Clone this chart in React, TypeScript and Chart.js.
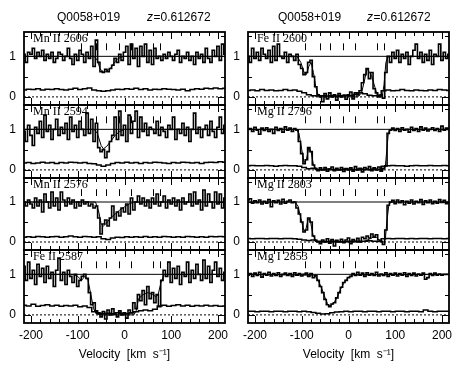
import React, { useEffect, useRef } from "react";
import { Chart, registerables } from "chart.js";
Chart.register(...registerables);

// ---------------- DATA ----------------
const X_MIN = -215;
const X_MAX = 215;
const Y_MIN = -0.2;
const Y_MAX = 1.6;

const X_TICKS = [-200, -100, 0, 100, 200];
const Y_TICKS = [0, 1];

const TITLE_QSO = "Q0058+019";
const TITLE_Z = "=0.612672";

// component markers (km/s)
const COMPONENT_VELOCITIES = [-92, -62, -40, -12, 14, 62, 76];

// pixel velocities of the data histograms
const VELOCITY = [
  -215, -210, -205, -200, -195, -190, -185, -180, -175, -170,
  -165, -160, -155, -150, -145, -140, -135, -130, -125, -120,
  -115, -110, -105, -100, -95, -90, -85, -80, -75, -70,
  -65, -60, -55, -50, -45, -40, -35, -30, -25, -20,
  -15, -10, -5, 0, 5, 10, 15, 20, 25, 30,
  35, 40, 45, 50, 55, 60, 65, 70, 75, 80,
  85, 90, 95, 100, 105, 110, 115, 120, 125, 130,
  135, 140, 145, 150, 155, 160, 165, 170, 175, 180,
  185, 190, 195, 200, 205, 210, 215,
];

// velocities of the error histograms
const ERR_VELOCITY = [
  -215, -205, -195, -185, -175, -165, -155, -145, -135, -125,
  -115, -105, -95, -85, -75, -65, -55, -45, -35, -25,
  -15, -5, 5, 15, 25, 35, 45, 55, 65, 75,
  85, 95, 105, 115, 125, 135, 145, 155, 165, 175,
  185, 195, 205, 215,
];

const FLUX_MNII_2606 = [
  1.05, 0.85, 1.1, 1.05, 1.2, 0.95, 1.1, 1.0, 1.15, 0.9,
  1.05, 0.95, 1.1, 0.85, 0.95, 1.1, 1.05, 0.9, 1.0, 1.2,
  0.95, 0.8, 1.05, 0.9, 1.15, 1.05, 0.85, 1.1, 0.95, 1.25,
  0.75, 1.4, 0.85, 0.62, 0.6, 0.68, 0.62, 0.7, 0.78, 0.95,
  0.85, 1.05, 0.9, 1.1, 1.25, 0.8, 1.3, 0.95, 1.2, 0.75,
  1.25, 1.0, 1.3, 0.85, 1.15, 0.8, 1.2, 0.95, 1.0, 0.9,
  1.05, 0.95, 1.1, 1.0, 0.9, 1.05, 1.15, 0.85, 1.0, 0.95,
  1.1, 0.9, 1.0, 0.8, 1.1, 0.95, 1.05, 0.85, 1.2, 0.95,
  0.85, 1.15, 1.0, 1.25, 0.9, 1.3, 1.05,
];
const FLUX_MNII_2594 = [
  0.95, 0.7, 1.1, 0.85, 0.6, 1.05, 0.9, 1.2, 0.8, 1.35,
  0.95, 1.1, 0.75, 1.0, 1.25, 0.85, 1.05, 0.9, 1.15, 0.75,
  1.3, 0.95, 1.1, 0.8, 1.2, 1.0, 0.85, 1.4, 0.9, 1.25,
  0.7, 1.15, 0.55, 0.45, 0.5, 0.3, 0.45, 0.7, 0.85, 1.3,
  0.75, 1.45, 0.85, 1.1, 0.7, 1.35, 0.9, 1.2, 1.45, 0.8,
  1.3, 0.95, 1.15, 0.85, 1.05, 1.0, 0.9, 1.2, 0.85, 1.05,
  0.95, 0.8, 1.1, 1.0, 1.3, 0.75, 1.0, 0.9, 1.15, 0.85,
  1.05, 0.7, 1.0, 1.4, 0.9, 1.05, 0.8, 1.0, 1.1, 0.85,
  1.2, 0.95, 0.8, 1.05, 1.3, 0.9, 1.1,
];
const FLUX_MNII_2576 = [
  1.0, 0.9, 1.05, 0.95, 0.85, 1.1, 0.9, 1.05, 0.75, 1.2,
  1.0, 0.85, 1.25, 0.9, 1.1, 0.8, 1.25, 1.05, 0.9, 1.1,
  0.95, 1.05, 0.85, 1.0, 0.9, 1.05, 0.95, 1.0, 0.9, 0.95,
  0.85, 0.9, 0.6, 0.2, 0.45, 0.55, 0.4, 0.6, 0.9, 0.55,
  0.75, 0.65, 0.85, 0.75, 0.95, 0.7, 1.1, 0.8, 1.0, 1.15,
  0.95, 1.1, 0.9, 1.05, 0.85, 1.1, 0.95, 1.2, 0.9, 1.0,
  1.15, 0.85, 1.05, 0.95, 1.1, 0.9, 1.05, 0.8, 1.1, 0.95,
  1.0, 1.2, 0.9, 1.25, 0.95, 1.05, 0.8, 1.3, 0.9, 1.2,
  1.0, 0.85, 1.25, 0.95, 1.2, 0.85, 1.1,
];
const FLUX_FEII_2587 = [
  1.2, 0.85, 1.3, 0.9, 1.1, 0.75, 1.25, 0.95, 1.15, 0.8,
  1.2, 0.9, 1.05, 0.7, 1.1, 1.4, 0.85, 1.05, 0.75, 1.1,
  0.95, 0.8, 1.0, 0.7, 0.85, 0.95, 1.0, 0.9, 0.55, 0.25,
  0.3, 0.1, 0.05, -0.05, 0.08, -0.1, 0.12, 0.0, 0.15, 0.02,
  -0.05, 0.1, 0.0, 0.05, -0.08, 0.12, 0.05, 0.3, 0.15, 0.5,
  0.35, 0.6, 0.25, 0.7, 0.4, 0.55, 0.3, 0.5, 0.2, 0.85,
  1.1, 0.95, 1.3, 0.8, 1.15, 0.9, 1.2, 0.75, 1.05, 0.95,
  1.3, 0.8, 1.1, 0.9, 1.25, 1.0, 0.85, 1.35, 0.9, 1.2,
  0.8, 1.1, 1.3, 0.95, 1.15, 0.85, 1.05,
];
const FLUX_FEII_2600 = [
  1.0, 0.85, 1.2, 0.95, 1.1, 0.9, 1.2, 1.05, 0.95, 1.15,
  0.85, 1.25, 0.9, 1.3, 1.0, 0.95, 1.1, 0.85, 1.05, 1.0,
  0.9, 1.05, 0.8, 0.7, 0.55, 0.6, 0.85, 0.9, 0.5, 0.25,
  0.05, 0.0, -0.12, 0.08, -0.05, 0.1, 0.0, 0.05, -0.08, 0.08,
  0.0, 0.04, -0.06, 0.05, 0.12, -0.05, 0.1, 0.05, 0.15, 0.35,
  0.55, 0.7, 0.45, 0.6, 0.2, 0.1, 0.0, 0.05, -0.03, 0.6,
  1.0, 0.85, 1.1, 0.95, 1.15, 0.85, 1.05, 0.95, 1.1, 0.8,
  1.0, 1.15, 1.3, 0.95, 1.1, 0.85, 1.05, 0.9, 1.15, 0.8,
  1.05, 1.0, 1.3, 0.9, 1.1, 0.95, 1.05,
];
const FLUX_MGII_2796 = [
  1.0, 1.02, 0.95, 1.05, 0.98, 0.88, 1.03, 0.97, 1.04, 0.95,
  1.0, 0.9, 1.05, 0.97, 1.02, 0.93, 1.06, 0.98, 1.03, 0.95,
  1.02, 0.98, 0.7, 0.4, 0.15, 0.25, 0.55, 0.45, 0.12, 0.03,
  -0.02, 0.05, 0.0, 0.06, -0.03, 0.02, 0.07, -0.02, 0.04, 0.0,
  0.06, -0.04, 0.03, 0.0, 0.05, -0.03, 0.08, 0.0, 0.04, -0.05,
  0.06, 0.02, 0.08, -0.02, 0.05, 0.0, 0.07, -0.03, 0.04, 0.1,
  0.9, 0.98, 1.03, 0.97, 1.02, 0.95, 1.04, 0.98, 1.0, 0.93,
  1.05, 0.97, 1.02, 0.95, 1.06, 0.98, 1.03, 0.96, 1.0, 1.04,
  0.97, 1.02, 0.95, 1.08, 0.98, 1.03, 1.0,
];
const FLUX_MGII_2803 = [
  1.05, 1.08, 0.97, 1.03, 0.98, 1.05, 0.95, 1.02, 0.97, 1.06,
  0.88, 1.03, 0.98, 1.04, 0.95, 1.07, 0.97, 1.02, 1.05, 0.98,
  1.0, 0.85, 0.7, 0.5, 0.25, 0.3, 0.6, 0.5, 0.15, 0.04,
  0.0, -0.04, 0.05, 0.0, 0.08, -0.03, 0.06, -0.1, 0.04, 0.0,
  0.07, -0.02, 0.05, 0.1, -0.04, 0.06, 0.02, 0.09, 0.0, 0.12,
  0.08, 0.15, 0.1, 0.2, 0.12, 0.18, 0.05, 0.02, -0.06, 0.3,
  0.92, 1.0, 1.04, 0.96, 1.05, 0.98, 1.03, 0.93, 1.02, 0.97,
  1.05, 0.95, 1.02, 0.98, 1.06, 0.94, 1.03, 0.98, 1.05, 0.96,
  1.02, 0.97, 1.06, 0.99, 1.04, 0.96, 1.0,
];
const FLUX_MGI_2853 = [
  0.98, 1.02, 0.95, 1.03, 0.97, 1.05, 0.93, 1.02, 0.98, 1.05,
  0.96, 1.02, 0.97, 1.04, 0.95, 1.0, 1.03, 0.97, 1.02, 0.95,
  1.04, 0.98, 1.02, 0.96, 1.0, 1.03, 0.95, 1.02, 0.92, 0.97,
  0.85, 0.7, 0.55, 0.38, 0.25, 0.2, 0.27, 0.3, 0.42, 0.55,
  0.68, 0.8, 0.85, 0.92, 0.95, 1.02, 0.97, 1.05, 0.98, 1.03,
  0.95, 1.04, 0.98, 1.02, 0.97, 1.05, 0.96, 1.01, 0.97, 1.04,
  0.95, 1.02, 0.98, 1.03, 0.96, 1.02, 0.98, 1.04, 0.95, 1.02,
  0.97, 1.03, 0.96, 1.01, 0.98, 1.03, 0.88, 0.92, 1.02, 0.97,
  1.03, 0.98, 1.01, 0.98, 1.0, 1.0, 1.0,
];

// model profiles (velocity knots, normalized flux)
const MODEL_V_MNII_2606 = [-215, -65, -58, -52, -45, -38, -30, -22, -15, -8, 0, 215];
const MODEL_F_MNII_2606 = [1, 1, 0.9, 0.68, 0.62, 0.64, 0.7, 0.85, 0.93, 0.98, 1, 1];
const MODEL_V_MNII_2594 = [-215, -65, -58, -50, -45, -38, -30, -20, -10, 0, 215];
const MODEL_F_MNII_2594 = [1, 1, 0.9, 0.6, 0.52, 0.58, 0.7, 0.85, 0.95, 1, 1];
const MODEL_V_MNII_2576 = [-215, -62, -55, -50, -45, -38, -30, -20, -10, 0, 10, 20, 215];
const MODEL_F_MNII_2576 = [1, 1, 0.75, 0.45, 0.4, 0.48, 0.6, 0.7, 0.8, 0.88, 0.95, 1, 1];
const MODEL_V_FEII_2587 = [-215, -110, -100, -92, -85, -78, -72, -66, -60, -50, 20, 25, 30, 40, 50, 60, 67, 72, 78, 85, 215];
const MODEL_F_FEII_2587 = [1, 1, 0.95, 0.85, 0.95, 0.85, 0.5, 0.15, 0.02, 0, 0, 0.1, 0.4, 0.5, 0.55, 0.5, 0.45, 0.5, 0.8, 1, 1];
const MODEL_V_FEII_2600 = [-215, -110, -102, -95, -90, -85, -80, -75, -70, -65, -60, 20, 28, 35, 40, 45, 50, 55, 60, 65, 72, 76, 80, 85, 215];
const MODEL_F_FEII_2600 = [1, 1, 0.85, 0.6, 0.55, 0.75, 0.85, 0.6, 0.25, 0.05, 0, 0, 0.1, 0.45, 0.7, 0.6, 0.5, 0.3, 0.1, 0.02, 0, 0.3, 0.85, 1, 1];
const MODEL_V_MGII_2796 = [-215, -112, -106, -100, -95, -90, -85, -80, -75, -70, -65, 76, 79, 82, 85, 88, 215];
const MODEL_F_MGII_2796 = [1, 1, 0.9, 0.5, 0.18, 0.25, 0.55, 0.45, 0.12, 0.02, 0, 0, 0.1, 0.5, 0.88, 1, 1];
const MODEL_V_MGII_2803 = [-215, -115, -108, -102, -96, -92, -86, -82, -76, -70, -65, 30, 40, 50, 55, 60, 65, 70, 76, 79, 82, 86, 90, 215];
const MODEL_F_MGII_2803 = [1, 1, 0.9, 0.6, 0.3, 0.28, 0.58, 0.55, 0.18, 0.03, 0, 0, 0.05, 0.1, 0.15, 0.12, 0.05, 0, 0, 0.1, 0.5, 0.9, 1, 1];
const MODEL_V_MGI_2853 = [-215, -75, -68, -62, -55, -50, -45, -40, -35, -30, -25, -20, -15, -10, -5, 0, 10, 215];
const MODEL_F_MGI_2853 = [1, 0.98, 0.92, 0.78, 0.58, 0.42, 0.28, 0.22, 0.25, 0.32, 0.42, 0.55, 0.68, 0.78, 0.87, 0.93, 0.99, 1];

// error spectra
const ERR_MNII_2606 = [0.17, 0.19, 0.18, 0.2, 0.17, 0.19, 0.18, 0.2, 0.18, 0.17, 0.19, 0.21, 0.18, 0.2, 0.22, 0.17, 0.15, 0.14, 0.15, 0.17, 0.19, 0.18, 0.2, 0.19, 0.21, 0.18, 0.2, 0.17, 0.19, 0.18, 0.2, 0.19, 0.18, 0.17, 0.19, 0.15, 0.18, 0.2, 0.19, 0.21, 0.2, 0.22, 0.2, 0.21];
const ERR_MNII_2594 = [0.17, 0.18, 0.16, 0.17, 0.19, 0.17, 0.18, 0.16, 0.18, 0.17, 0.19, 0.18, 0.17, 0.18, 0.16, 0.15, 0.12, 0.09, 0.12, 0.16, 0.18, 0.17, 0.19, 0.17, 0.18, 0.16, 0.18, 0.17, 0.19, 0.18, 0.17, 0.16, 0.18, 0.17, 0.19, 0.18, 0.17, 0.18, 0.16, 0.18, 0.19, 0.18, 0.2, 0.19];
const ERR_MNII_2576 = [0.12, 0.13, 0.12, 0.14, 0.13, 0.12, 0.13, 0.14, 0.12, 0.13, 0.15, 0.13, 0.12, 0.14, 0.13, 0.12, 0.13, 0.08, 0.06, 0.1, 0.12, 0.11, 0.13, 0.12, 0.13, 0.12, 0.14, 0.12, 0.13, 0.12, 0.14, 0.13, 0.12, 0.13, 0.12, 0.14, 0.13, 0.12, 0.13, 0.12, 0.14, 0.13, 0.14, 0.13];
const ERR_FEII_2587 = [0.24, 0.22, 0.26, 0.21, 0.23, 0.25, 0.22, 0.24, 0.21, 0.23, 0.22, 0.24, 0.2, 0.22, 0.18, 0.08, 0.04, 0.03, 0.04, 0.03, 0.05, 0.04, 0.03, 0.05, 0.08, 0.1, 0.12, 0.1, 0.14, 0.22, 0.24, 0.21, 0.23, 0.25, 0.22, 0.24, 0.21, 0.23, 0.22, 0.24, 0.22, 0.23, 0.21, 0.22];
const ERR_FEII_2600 = [0.16, 0.17, 0.15, 0.18, 0.16, 0.17, 0.15, 0.16, 0.18, 0.16, 0.17, 0.14, 0.1, 0.05, 0.03, 0.02, 0.03, 0.02, 0.03, 0.02, 0.03, 0.04, 0.03, 0.06, 0.1, 0.08, 0.04, 0.03, 0.04, 0.15, 0.17, 0.15, 0.16, 0.18, 0.16, 0.15, 0.17, 0.16, 0.15, 0.17, 0.16, 0.18, 0.17, 0.16];
const ERR_MGII_2796 = [0.1, 0.11, 0.1, 0.1, 0.11, 0.1, 0.09, 0.1, 0.11, 0.1, 0.1, 0.09, 0.06, 0.03, 0.04, 0.01, 0.01, 0.02, 0.01, 0.01, 0.01, 0.02, 0.01, 0.01, 0.02, 0.01, 0.01, 0.02, 0.01, 0.09, 0.1, 0.11, 0.1, 0.1, 0.09, 0.1, 0.11, 0.1, 0.1, 0.11, 0.1, 0.1, 0.11, 0.1];
const ERR_MGII_2803 = [0.09, 0.08, 0.09, 0.09, 0.08, 0.09, 0.09, 0.08, 0.09, 0.09, 0.08, 0.07, 0.05, 0.04, 0.05, 0.02, 0.01, 0.01, 0.02, 0.01, 0.01, 0.01, 0.02, 0.01, 0.02, 0.02, 0.03, 0.02, 0.01, 0.08, 0.09, 0.08, 0.09, 0.09, 0.08, 0.09, 0.08, 0.09, 0.09, 0.08, 0.09, 0.09, 0.08, 0.09];
const ERR_MGI_2853 = [0.09, 0.09, 0.08, 0.09, 0.09, 0.08, 0.09, 0.09, 0.08, 0.09, 0.09, 0.08, 0.09, 0.08, 0.06, 0.04, 0.02, 0.03, 0.05, 0.07, 0.08, 0.09, 0.08, 0.09, 0.09, 0.08, 0.09, 0.09, 0.08, 0.09, 0.09, 0.08, 0.09, 0.09, 0.08, 0.09, 0.09, 0.08, 0.12, 0.09, 0.08, 0.09, 0.09, 0.09];

type PanelSpec = {
  label: string;
  flux: number[];
  modelV: number[];
  modelF: number[];
  err: number[];
  col: number;
  row: number;
};

const PANELS: PanelSpec[] = [
  { label: "Mn II 2606", flux: FLUX_MNII_2606, modelV: MODEL_V_MNII_2606, modelF: MODEL_F_MNII_2606, err: ERR_MNII_2606, col: 0, row: 0 },
  { label: "Mn II 2594", flux: FLUX_MNII_2594, modelV: MODEL_V_MNII_2594, modelF: MODEL_F_MNII_2594, err: ERR_MNII_2594, col: 0, row: 1 },
  { label: "Mn II 2576", flux: FLUX_MNII_2576, modelV: MODEL_V_MNII_2576, modelF: MODEL_F_MNII_2576, err: ERR_MNII_2576, col: 0, row: 2 },
  { label: "Fe II 2587", flux: FLUX_FEII_2587, modelV: MODEL_V_FEII_2587, modelF: MODEL_F_FEII_2587, err: ERR_FEII_2587, col: 0, row: 3 },
  { label: "Fe II 2600", flux: FLUX_FEII_2600, modelV: MODEL_V_FEII_2600, modelF: MODEL_F_FEII_2600, err: ERR_FEII_2600, col: 1, row: 0 },
  { label: "Mg II 2796", flux: FLUX_MGII_2796, modelV: MODEL_V_MGII_2796, modelF: MODEL_F_MGII_2796, err: ERR_MGII_2796, col: 1, row: 1 },
  { label: "Mg II 2803", flux: FLUX_MGII_2803, modelV: MODEL_V_MGII_2803, modelF: MODEL_F_MGII_2803, err: ERR_MGII_2803, col: 1, row: 2 },
  { label: "Mg I 2853", flux: FLUX_MGI_2853, modelV: MODEL_V_MGI_2853, modelF: MODEL_F_MGI_2853, err: ERR_MGI_2853, col: 1, row: 3 },
];

// ---------------- LAYOUT / STYLE ----------------
const PAGE_W = 469;
const PAGE_H = 374;
const COL_LEFT = [0, 224];
const AXIS_W = 24;
const PLOT_W = 201;
const CANVAS_W = 232;
const ROW_TOP = [32, 105, 178, 250];
const ROW_BOTTOM = [105, 178, 250, 323];
const TITLE_Q_OFFSET = [33, 30];
const TITLE_Z_OFFSET = [123, 119];
const SANS = "'Liberation Sans', Arial, sans-serif";
const SERIF = "'Liberation Serif', 'Times New Roman', serif";

function makeDecor(spec: PanelSpec) {
  return {
    id: "panelDecor",
    afterDatasetsDraw(chart: any) {
      const { ctx, chartArea: a, scales } = chart;
      const x = scales.x;
      const y = scales.y;
      ctx.save();
      ctx.strokeStyle = "#000";
      ctx.fillStyle = "#000";

      // component markers
      ctx.lineWidth = 1;
      const m0 = y.getPixelForValue(1.15);
      const m1 = y.getPixelForValue(1.32);
      for (const v of COMPONENT_VELOCITIES) {
        const px = Math.round(x.getPixelForValue(v)) + 0.5;
        ctx.beginPath();
        ctx.moveTo(px, m0);
        ctx.lineTo(px, m1);
        ctx.stroke();
      }

      // inward ticks
      ctx.lineWidth = 1;
      for (let v = -200; v <= 200; v += 20) {
        const px = Math.round(x.getPixelForValue(v)) + 0.5;
        const len = v % 100 === 0 ? 7 : 4;
        ctx.beginPath();
        ctx.moveTo(px, a.bottom);
        ctx.lineTo(px, a.bottom - len);
        ctx.moveTo(px, a.top);
        ctx.lineTo(px, a.top + len);
        ctx.stroke();
      }
      for (const v of [0, 0.5, 1, 1.5]) {
        const py = Math.round(y.getPixelForValue(v)) + 0.5;
        const len = v % 1 === 0 ? 7 : 4;
        ctx.beginPath();
        ctx.moveTo(a.left, py);
        ctx.lineTo(a.left + len, py);
        ctx.moveTo(a.right, py);
        ctx.lineTo(a.right - len, py);
        ctx.stroke();
      }

      // frame
      ctx.lineWidth = 1.8;
      ctx.strokeRect(a.left, a.top, a.right - a.left, a.bottom - a.top);

      // panel label
      ctx.font = `12px ${SERIF}`;
      ctx.textBaseline = "alphabetic";
      ctx.textAlign = "left";
      ctx.fillText(spec.label, a.left + 9, a.top + 10);

      // column title
      if (spec.row === 0) {
        ctx.font = `12px ${SANS}`;
        ctx.fillText(TITLE_QSO, a.left + TITLE_Q_OFFSET[spec.col], 21);
        ctx.font = `italic 12px ${SANS}`;
        const zx = a.left + TITLE_Z_OFFSET[spec.col];
        ctx.fillText("z", zx, 21);
        const w = ctx.measureText("z").width;
        ctx.font = `12px ${SANS}`;
        ctx.fillText(TITLE_Z, zx + w + 0.5, 21);
      }
      ctx.restore();
    },
  };
}

function Panel({ spec }: { spec: PanelSpec }) {
  const ref = useRef<HTMLCanvasElement | null>(null);
  const isTop = spec.row === 0;
  const isBottom = spec.row === 3;
  const canvasTop = isTop ? 0 : ROW_TOP[spec.row] - 3;
  const canvasBottom = isBottom ? PAGE_H : ROW_BOTTOM[spec.row] + 3;
  const h = canvasBottom - canvasTop;
  const padTop = ROW_TOP[spec.row] - canvasTop;
  const padBottom = isBottom ? 0 : canvasBottom - ROW_BOTTOM[spec.row];

  useEffect(() => {
    if (!ref.current) return;
    const fluxPts = spec.flux.map((f, i) => ({ x: VELOCITY[i], y: f }));
    const modelPts = spec.modelF.map((f, i) => ({ x: spec.modelV[i], y: f }));
    const errPts = spec.err.map((e, i) => ({ x: ERR_VELOCITY[i], y: e }));
    const chart = new Chart(ref.current, {
      type: "line",
      data: {
        datasets: [
          { data: modelPts, borderColor: "#000", borderWidth: 1, pointRadius: 0, tension: 0, fill: false },
          { data: fluxPts, borderColor: "#000", borderWidth: 1.6, pointRadius: 0, stepped: "middle", fill: false },
          { data: errPts, borderColor: "#000", borderWidth: 1.5, pointRadius: 0, stepped: "middle", fill: false },
          { data: [{ x: X_MIN, y: 1 }, { x: X_MAX, y: 1 }], borderColor: "#000", borderWidth: 1, pointRadius: 0, fill: false },
          { data: [{ x: X_MIN, y: 0 }, { x: X_MAX, y: 0 }], borderColor: "#000", borderWidth: 1, borderDash: [2, 2], pointRadius: 0, fill: false },
        ],
      },
      options: {
        responsive: false,
        maintainAspectRatio: false,
        devicePixelRatio: 1,
        animation: false,
        events: [],
        layout: { padding: { left: 0, right: CANVAS_W - AXIS_W - PLOT_W, top: padTop, bottom: padBottom } },
        plugins: { legend: { display: false }, tooltip: { enabled: false }, title: { display: false } },
        scales: {
          x: {
            type: "linear",
            min: X_MIN,
            max: X_MAX,
            display: isBottom,
            grid: { display: false, drawTicks: false },
            border: { display: false },
            afterBuildTicks: (s: any) => {
              s.ticks = X_TICKS.map((v) => ({ value: v }));
            },
            afterFit: (s: any) => {
              if (isBottom) s.height = PAGE_H - ROW_BOTTOM[3];
              s.paddingLeft = 0;
              s.paddingRight = 0;
              s.paddingTop = 0;
              s.paddingBottom = 0;
            },
            ticks: {
              autoSkip: false,
              maxRotation: 0,
              minRotation: 0,
              padding: 5,
              color: "#000",
              font: { family: SANS, size: 12 },
              callback: (v: any) => String(v),
            },
            title: {
              display: true,
              text: "Velocity  [km  s\u207B\u00B9]",
              color: "#000",
              font: { family: SANS, size: 12 },
              padding: { top: 0, bottom: 12 },
            },
          },
          y: {
            type: "linear",
            min: Y_MIN,
            max: Y_MAX,
            grid: { display: false, drawTicks: false },
            border: { display: false },
            afterBuildTicks: (s: any) => {
              s.ticks = Y_TICKS.map((v) => ({ value: v }));
            },
            afterFit: (s: any) => {
              s.width = AXIS_W;
              s.paddingTop = 0;
              s.paddingBottom = 0;
              s.paddingLeft = 0;
              s.paddingRight = 0;
            },
            ticks: {
              padding: 8,
              color: "#000",
              font: { family: SANS, size: 12 },
              callback: (v: any) => String(v),
            },
          },
        },
      },
      plugins: [makeDecor(spec)],
    } as any);
    return () => chart.destroy();
  }, []);

  return (
    <canvas
      ref={ref}
      width={CANVAS_W}
      height={h}
      style={{ position: "absolute", left: COL_LEFT[spec.col], top: canvasTop, width: CANVAS_W, height: h }}
    />
  );
}

export default function App() {
  return (
    <div style={{ position: "absolute", left: 0, top: 0, width: PAGE_W, height: PAGE_H, background: "#fff", overflow: "hidden" }}>
      {PANELS.map((p) => (
        <Panel key={p.label} spec={p} />
      ))}
    </div>
  );
}
